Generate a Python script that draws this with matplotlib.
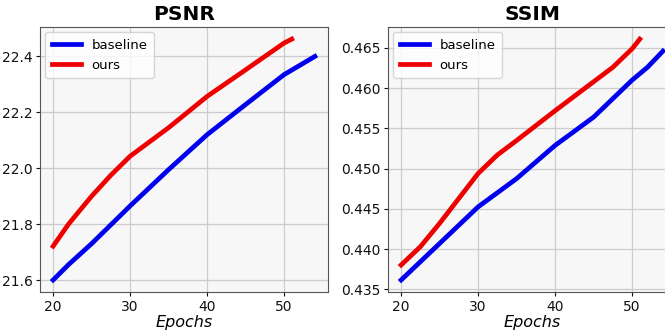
import matplotlib
matplotlib.use("Agg")
import matplotlib.pyplot as plt

# PSNR curves
psnr_base_ep = [20, 22, 25, 30, 35, 40, 45, 50, 54]
psnr_base = [21.6, 21.655, 21.73, 21.865, 21.995, 22.12, 22.228, 22.335, 22.40]
psnr_ours_ep = [20, 22, 25, 27.5, 30, 35, 40, 45, 50, 51]
psnr_ours = [21.721, 21.80, 21.90, 21.975, 22.043, 22.145, 22.257, 22.352, 22.448, 22.462]

# SSIM curves
ssim_base_ep = [20, 25, 30, 35, 40, 45, 47.5, 50, 52, 54]
ssim_base = [0.43616, 0.4407, 0.44525, 0.44876, 0.45289, 0.4564, 0.4587, 0.4610, 0.4626, 0.4646]
ssim_ours_ep = [20, 22.5, 25, 30, 32.5, 35, 40, 45, 47.5, 50, 51]
ssim_ours = [0.43802, 0.4403, 0.4432, 0.4494, 0.4517, 0.4535, 0.4572, 0.4608, 0.4626, 0.4649, 0.4661]

fig = plt.figure(figsize=(6.65, 3.3), dpi=100)
ax1 = fig.add_axes([0.0602, 0.115, 0.433, 0.803])
ax2 = fig.add_axes([0.5835, 0.115, 0.433, 0.803])

panels = [
    (ax1, "PSNR", psnr_base_ep, psnr_base, psnr_ours_ep, psnr_ours),
    (ax2, "SSIM", ssim_base_ep, ssim_base, ssim_ours_ep, ssim_ours),
]

for ax, title, bx, by, ox, oy in panels:
    ax.set_facecolor("#f7f7f7")
    ax.plot(bx, by, color="#0000ee", lw=3.4, label="baseline")
    ax.plot(ox, oy, color="#ee0000", lw=3.4, label="ours")
    ax.grid(True, color="#cccccc", lw=0.9)
    ax.set_axisbelow(True)
    ax.set_title(title, fontsize=14.5, fontweight="bold", pad=5)
    ax.set_xlabel("Epochs", fontsize=11.5, style="italic", labelpad=1)
    ax.set_xticks([20, 30, 40, 50])
    ax.tick_params(labelsize=10, colors="#111111", pad=2.5, length=3)
    for s in ax.spines.values():
        s.set_color("#555555")
    ax.legend(loc="upper left", fontsize=9.5, handlelength=2.2, framealpha=0.8,
              borderaxespad=0.4, borderpad=0.5)

ax1.set_yticks([21.6, 21.8, 22.0, 22.2, 22.4])
ax2.set_yticks([0.435, 0.44, 0.445, 0.45, 0.455, 0.46, 0.465])

fig.savefig("out.png", dpi=100)
